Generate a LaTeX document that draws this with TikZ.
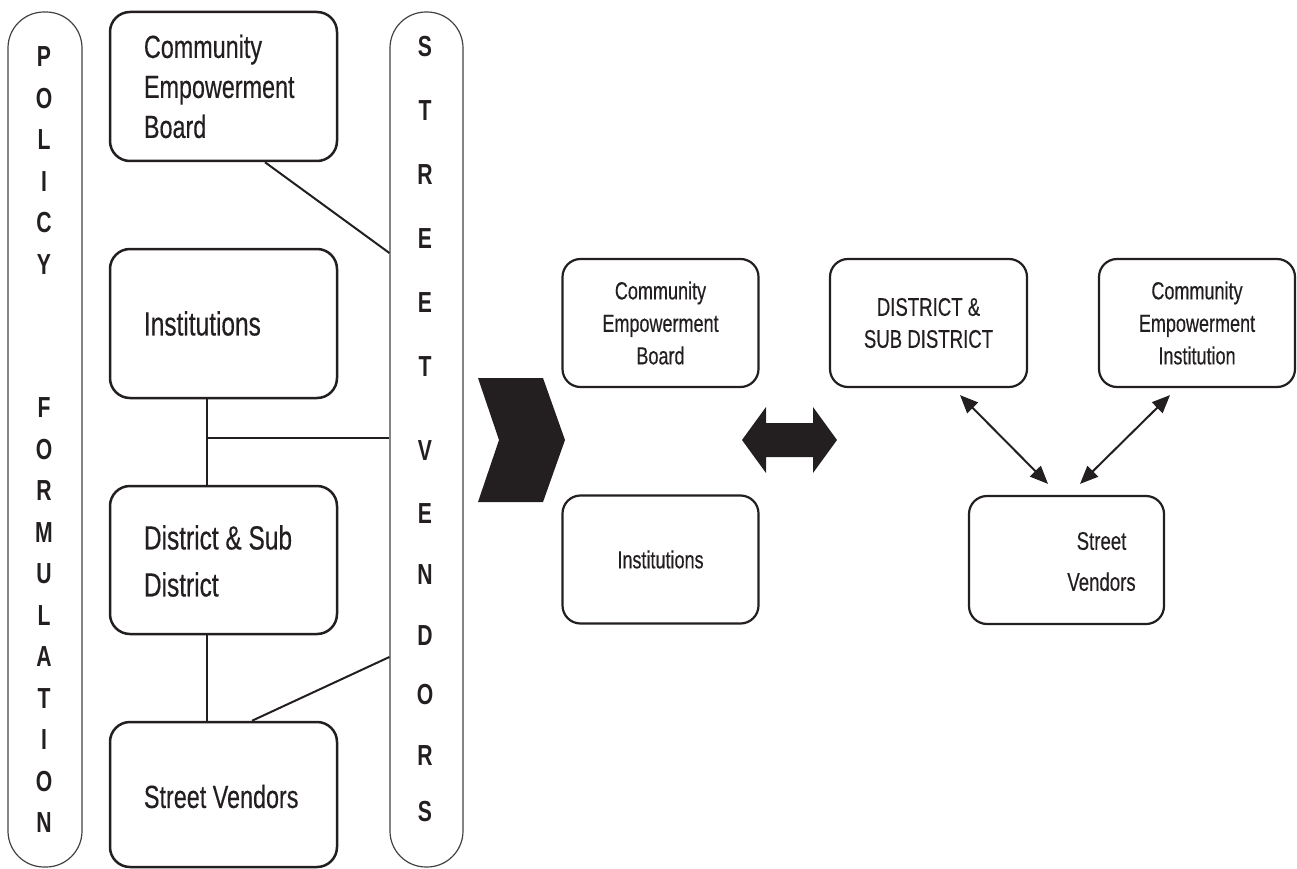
\documentclass[tikz,border=0pt]{standalone}
\usepackage{fontspec}
\setmainfont{Liberation Sans}[FakeStretch=0.73, UprightFeatures={FakeBold=0.35}, BoldFeatures={FakeBold=0}]
\usetikzlibrary{positioning,calc,arrows.meta}
\definecolor{ink}{HTML}{231F20}
\tikzset{
	pill/.style={draw=ink!85, line width=1.2pt, rounded corners=36pt, minimum width=74pt, minimum height=855pt, inner sep=0pt},
	barletter/.style={text=ink, inner sep=0pt, font=\bfseries\fontsize{29}{29}\selectfont},
	bigbox/.style={draw=ink, line width=2.5pt, rounded corners=20pt, minimum width=227pt, inner sep=0pt},
	bigtext/.style={text=ink, inner sep=0pt, align=left, font=\fontsize{32}{40}\selectfont},
	smallbox/.style={draw=ink, line width=2.2pt, rounded corners=18pt, minimum width=196pt, minimum height=128pt, inner sep=0pt, text=ink, align=center},
	link/.style={draw=ink, line width=2pt},
	biarrow/.style={draw=ink, line width=2pt, {Triangle[length=18pt,width=15pt]}-{Triangle[length=18pt,width=15pt]}}
}
\begin{document}
\begin{tikzpicture}[x=1pt,y=-1pt]
	\useasboundingbox (0,0) rectangle (1297,869);
	% side bars
	\node[pill] (pol) at (45,439.5) {};
	\node[pill, minimum width=73pt] (stv) at (426.5,439.5) {};
	\foreach \c/\yy in {P/57,O/98.5,L/140,I/181.5,C/223,Y/264.5,F/408,O/449.5,R/491,M/532.5,U/574,L/615.5,A/657,T/698.5,I/740,O/781.5,N/823}
		\node[barletter] at (44,\yy) {\c};
	\foreach \c/\yy in {S/47,T/111,R/175,E/239,E/303,T/367,V/451,E/514,N/575,D/636,O/695,R/756,S/812}
		\node[barletter] at (425,\yy) {\c};
	% left column
	\node[bigbox, minimum height=149pt] (ceb) at (223.5,86.5) {};
	\node[bigbox, minimum height=149pt] (inst) at (223.5,323.5) {};
	\node[bigbox, minimum height=148pt] (dist) at (223.5,560) {};
	\node[bigbox, minimum height=145pt] (sv) at (223.5,794.5) {};
	\node[bigtext, right=35pt of ceb.west] (cebtext) {Community\\Empowerment\\Board};
	\node[bigtext, font=\fontsize{33.5}{45}\selectfont, right=35pt of inst.west] (insttext) {Institutions};
	\node[bigtext, font=\fontsize{33.5}{47}\selectfont, right=35pt of dist.west, yshift=-1pt] (disttext) {District \& Sub\\District};
	\node[bigtext, right=35pt of sv.west, yshift=-2pt] (svtext) {Street Vendors};
	\coordinate (jn) at (207,438);
	\draw[link] ([xshift=41.5pt]ceb.south) -- (stv.west |- 0,253);
	\draw[link] ([xshift=-16.5pt]inst.south) -- ([xshift=-16.5pt]dist.north);
	\draw[link] (jn) -- (stv.west |- jn);
	\draw[link] ([xshift=-16.5pt]dist.south) -- ([xshift=-16.5pt]sv.north);
	\draw[link] ([xshift=28.5pt]sv.north) -- (stv.west |- 0,657);
	% chevron and double arrow
	\fill[ink] (478,378) -- (543,378) -- (565,440) -- (543,502) -- (478,502) -- (499,440) -- cycle;
	\fill[ink] (742,440) -- (766,407) -- (766,423) -- (813,423) -- (813,407) -- (837,440) -- (813,473) -- (813,457) -- (766,457) -- (766,473) -- cycle;
	% right part
	\node[smallbox, font=\fontsize{24.7}{32.5}\selectfont] (mceb) at (660.5,323) {Community\\Empowerment\\Board};
	\node[smallbox, font=\fontsize{24.7}{32.5}\selectfont] (minst) at (660.5,559.5) {Institutions};
	\node[smallbox, minimum width=197pt, font=\fontsize{25.5}{32}\selectfont] (rdist) at (928.5,323) {DISTRICT \&\\SUB DISTRICT};
	\node[smallbox, font=\fontsize{24.7}{32.5}\selectfont] (rcei) at (1197,323) {Community\\Empowerment\\Institution};
	\node[smallbox, minimum width=195pt] (rsv) at (1066.5,560) {};
	\node[text=ink, inner sep=0pt, align=center, font=\fontsize{25.5}{41}\selectfont] (rsvtext) at (1101.5,561.5) {Street\\Vendors};
	\draw[biarrow] ([xshift=31.5pt,yshift=-7pt]rdist.south) -- ([xshift=-18.5pt,yshift=11pt]rsv.north);
	\draw[biarrow] ([xshift=-27pt,yshift=-7pt]rcei.south) -- ([xshift=13.5pt,yshift=11pt]rsv.north);
\end{tikzpicture}
\end{document}
